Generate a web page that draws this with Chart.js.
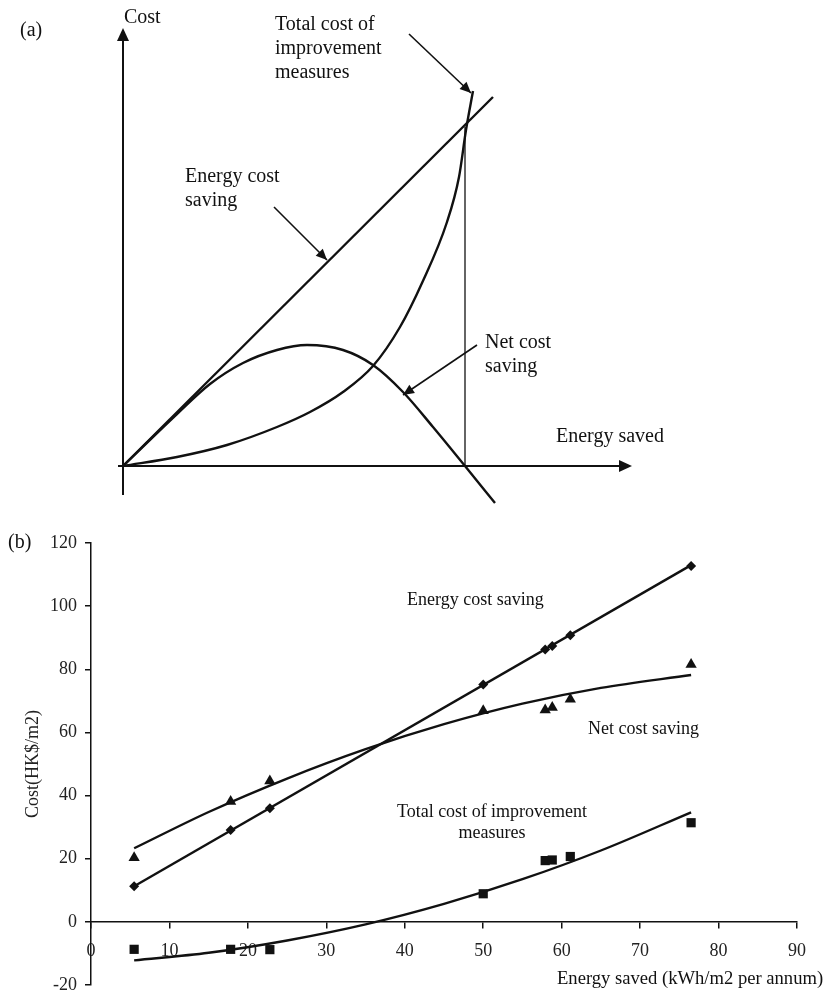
<!DOCTYPE html>
<html>
<head>
<meta charset="UTF-8">
<title>Cost vs energy saved</title>
<script src="https://cdn.jsdelivr.net/npm/chart.js@4.4.4/dist/chart.umd.min.js"></script>
<style>
  html, body { margin: 0; padding: 0; background: #fff; overflow: hidden; }
  canvas { position: absolute; left: 0; top: 0; }
</style>
</head>
<body>
<canvas id="schemeChart" width="823" height="1010"></canvas>
<canvas id="dataChart" width="823" height="1010"></canvas>
<script>
// ---- (a) schematic curves, arbitrary units ----
const schemeEnergyX = [0, 37];
const schemeEnergyY = [0, 36.9];
const schemeTotalX = [0, 5.4, 10.4, 15.4, 18.7, 22, 25, 27.7, 29.9, 32.4, 33.6, 34.3, 35];
const schemeTotalY = [0, 0.9, 2.1, 3.9, 5.4, 7.4, 10, 13.9, 18.3, 24.4, 28.9, 33.6, 37.5];
const schemeNetX = [0, 5.4, 8.7, 12, 15.4, 18.4, 22, 25, 28, 31, 34.2, 37.2];
const schemeNetY = [0, 5.2, 8.2, 10.3, 11.6, 12.1, 11.6, 10.1, 7.4, 3.9, 0, -3.7];
const schemeOptimumX = [34.2, 34.2];
const schemeOptimumY = [0, 33.9];

// ---- (b) measured cases ----
const energySaved      = [5.5, 17.8, 22.8, 50, 57.9, 58.8, 61.1, 76.5];
const energyCostSaving = [11.3, 29.1, 36, 75.2, 86.3, 87.4, 90.8, 112.7];
const netCostSaving    = [20.3, 38.1, 44.6, 66.9, 67.1, 67.9, 70.5, 81.5];
const totalCost        = [-8.7, -8.7, -8.8, 8.9, 19.4, 19.6, 20.7, 31.4];

// trend lines
const energyFitX = [5.5, 76.5];
const energyFitY = [11.3, 113];
const curveFitX  = [5.5, 15, 25, 35, 45, 55, 65, 76.5];
const netFitY    = [23.3, 34.8, 45.4, 54.7, 62.6, 69.1, 74.1, 78.2];
const totalFitY  = [-12.2, -9.8, -5.9, -0.8, 5.7, 13.5, 22.6, 34.7];

const xTicks = [0, 10, 20, 30, 40, 50, 60, 70, 80, 90];
const yTicks = [-20, 0, 20, 40, 60, 80, 100, 120];

const INK = '#111';
const SERIF = '"Liberation Serif", "Times New Roman", serif';

const pts = (xs, ys) => xs.map((x, i) => ({ x: x, y: ys[i] }));

function arrowHead(ctx, x0, y0, x1, y1, len, half) {
  const a = Math.atan2(y1 - y0, x1 - x0);
  const bx = x1 - len * Math.cos(a), by = y1 - len * Math.sin(a);
  ctx.beginPath();
  ctx.moveTo(x1, y1);
  ctx.lineTo(bx + half * Math.sin(a), by - half * Math.cos(a));
  ctx.lineTo(bx - half * Math.sin(a), by + half * Math.cos(a));
  ctx.closePath();
  ctx.fill();
}

function pointer(ctx, x0, y0, x1, y1) {
  ctx.beginPath();
  ctx.moveTo(x0, y0);
  ctx.lineTo(x1, y1);
  ctx.stroke();
  arrowHead(ctx, x0, y0, x1, y1, 11, 5);
}

function label(ctx, lines, x, y, size, align) {
  ctx.font = size + 'px ' + SERIF;
  ctx.textAlign = align || 'left';
  ctx.textBaseline = 'middle';
  lines.forEach((t, i) => ctx.fillText(t, x, y + i * size * 1.2));
}

// axes, pointers and words for the schematic
const schemeDecor = {
  id: 'schemeDecor',
  afterDatasetsDraw(chart) {
    const { ctx, scales: { x, y } } = chart;
    ctx.save();
    ctx.strokeStyle = INK;
    ctx.fillStyle = INK;
    ctx.lineWidth = 2;
    const ox = x.getPixelForValue(0), oy = y.getPixelForValue(0);
    const xEnd = x.getPixelForValue(x.max), yTop = y.getPixelForValue(y.max);
    // horizontal axis
    ctx.beginPath();
    ctx.moveTo(x.getPixelForValue(-0.5), oy);
    ctx.lineTo(xEnd - 8, oy);
    ctx.stroke();
    arrowHead(ctx, ox, oy, xEnd, oy, 13, 6);
    // vertical axis
    ctx.beginPath();
    ctx.moveTo(ox, y.getPixelForValue(-2.9));
    ctx.lineTo(ox, yTop + 8);
    ctx.stroke();
    arrowHead(ctx, ox, oy, ox, yTop, 13, 6);

    ctx.lineWidth = 1.6;
    pointer(ctx, 409, 34, 471, 93);
    pointer(ctx, 274, 207, 327, 260);
    pointer(ctx, 477, 345, 403, 395);

    label(ctx, ['(a)'], 20, 31, 20);
    label(ctx, ['Cost'], 124, 18, 20);
    label(ctx, ['Total cost of', 'improvement', 'measures'], 275, 25, 20);
    label(ctx, ['Energy cost', 'saving'], 185, 177, 20);
    label(ctx, ['Net cost', 'saving'], 485, 343, 20);
    label(ctx, ['Energy saved'], 556, 437, 20);
    ctx.restore();
  }
};

const dataDecor = {
  id: 'dataDecor',
  afterDatasetsDraw(chart) {
    const { ctx } = chart;
    ctx.save();
    ctx.fillStyle = INK;
    label(ctx, ['(b)'], 8, 543, 20);
    label(ctx, ['Energy cost saving'], 407, 600, 18);
    label(ctx, ['Net cost saving'], 588, 729, 18);
    label(ctx, ['Total cost of improvement', 'measures'], 492, 812, 18, 'center');
    label(ctx, ['Energy saved (kWh/m2 per annum)'], 557, 979, 18.6);
    ctx.restore();
  }
};

const curveStyle = {
  showLine: true,
  borderColor: INK,
  borderWidth: 2.4,
  pointRadius: 0,
  tension: 0.4,
  cubicInterpolationMode: 'monotone',
  clip: false
};

new Chart(document.getElementById('schemeChart'), {
  type: 'scatter',
  data: {
    datasets: [
      Object.assign({ label: 'Energy cost saving', data: pts(schemeEnergyX, schemeEnergyY) }, curveStyle),
      Object.assign({ label: 'Total cost of improvement measures', data: pts(schemeTotalX, schemeTotalY) }, curveStyle),
      Object.assign({ label: 'Net cost saving', data: pts(schemeNetX, schemeNetY) }, curveStyle),
      Object.assign({ label: 'Optimum', data: pts(schemeOptimumX, schemeOptimumY) }, curveStyle, { borderWidth: 1.3 })
    ]
  },
  options: {
    responsive: false,
    animation: false,
    events: [],
    layout: { padding: { left: 123, right: 191, top: 28, bottom: 505 } },
    plugins: { legend: { display: false }, tooltip: { enabled: false } },
    scales: {
      x: { type: 'linear', display: false, min: 0, max: 50.9 },
      y: { type: 'linear', display: false, min: -3.9, max: 43.8 }
    }
  },
  plugins: [schemeDecor]
});

const axisFont = { family: SERIF, size: 18 };

new Chart(document.getElementById('dataChart'), {
  type: 'scatter',
  data: {
    datasets: [
      Object.assign({ label: 'Energy cost saving fit', data: pts(energyFitX, energyFitY) }, curveStyle),
      Object.assign({ label: 'Net cost saving fit', data: pts(curveFitX, netFitY) }, curveStyle),
      Object.assign({ label: 'Total cost fit', data: pts(curveFitX, totalFitY) }, curveStyle),
      {
        label: 'Energy cost saving', data: pts(energySaved, energyCostSaving),
        pointStyle: 'rectRot', pointRadius: 5, backgroundColor: INK, borderColor: INK, borderWidth: 0
      },
      {
        label: 'Net cost saving', data: pts(energySaved, netCostSaving),
        pointStyle: 'triangle', pointRadius: 6.5, backgroundColor: INK, borderColor: INK, borderWidth: 0
      },
      {
        label: 'Total cost of improvement measures', data: pts(energySaved, totalCost),
        pointStyle: 'rect', pointRadius: 6.5, backgroundColor: INK, borderColor: INK, borderWidth: 0
      }
    ]
  },
  options: {
    responsive: false,
    animation: false,
    events: [],
    layout: { padding: { left: 0, right: 26, top: 543, bottom: 25 } },
    plugins: { legend: { display: false }, tooltip: { enabled: false } },
    scales: {
      x: {
        type: 'linear',
        position: { y: 0 },
        min: 0, max: 90,
        afterBuildTicks: s => { s.ticks = xTicks.map(v => ({ value: v })); },
        ticks: { color: '#222', font: axisFont, padding: 13, maxRotation: 0 },
        grid: { drawOnChartArea: false, tickLength: 6, color: INK, lineWidth: 1.5 },
        border: { display: true, color: INK, width: 1.5 }
      },
      y: {
        type: 'linear',
        position: 'left',
        min: -20, max: 120,
        afterFit: s => { s.width = 91; },
        afterBuildTicks: s => { s.ticks = yTicks.map(v => ({ value: v })); },
        ticks: { color: '#222', font: axisFont, padding: 8 },
        grid: { drawOnChartArea: false, tickLength: 6, color: INK, lineWidth: 1.5 },
        border: { display: true, color: INK, width: 1.5 },
        title: { display: true, text: 'Cost(HK$/m2)', color: '#222', font: axisFont, padding: { top: 22, bottom: 0 } }
      }
    }
  },
  plugins: [dataDecor]
});
</script>
</body>
</html>
